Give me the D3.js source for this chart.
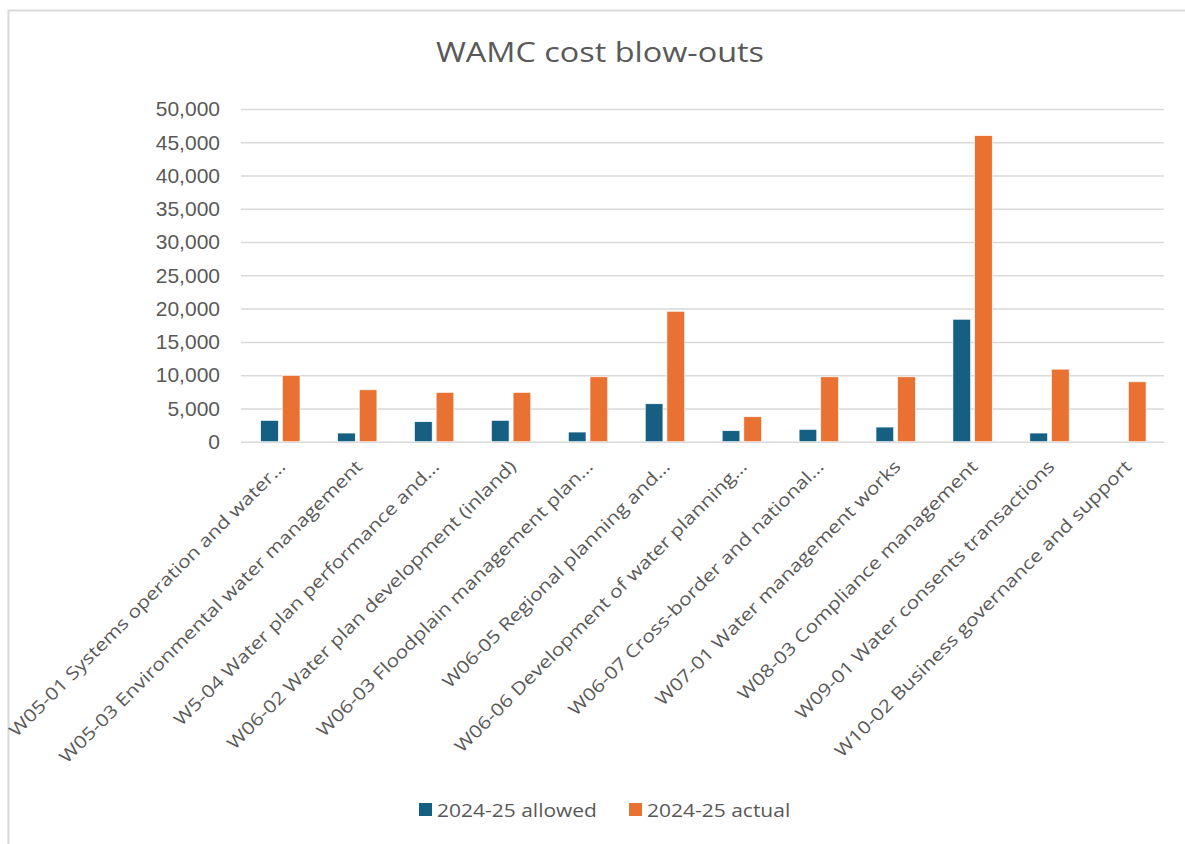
<!DOCTYPE html>
<html>
<head>
<meta charset="utf-8">
<script src="https://cdn.jsdelivr.net/npm/d3@7"></script>
<style>
  html, body { margin: 0; padding: 0; background: #fff; }
  svg { display: block; }
</style>
</head>
<body>
<svg id="chart" width="1185" height="844"></svg>
<script>
const categories = [
  "W05-01 Systems operation and water…",
  "W05-03 Environmental water management",
  "W5-04 Water plan performance and…",
  "W06-02 Water plan development (inland)",
  "W06-03 Floodplain management plan…",
  "W06-05 Regional planning and…",
  "W06-06 Development of water planning…",
  "W06-07 Cross-border and national…",
  "W07-01 Water management works",
  "W08-03 Compliance management",
  "W09-01 Water consents transactions",
  "W10-02 Business governance and support"
];
const allowed = [3200, 1300, 3000, 3200, 1450, 5700, 1650, 1850, 2200, 18400, 1300, 0];
const actual  = [9950, 7800, 7400, 7400, 9750, 19600, 3750, 9750, 9750, 46000, 10900, 9000];
const seriesNames = ["2024-25 allowed", "2024-25 actual"];
const seriesColors = ["#156082", "#E97132"];
const yTicks = [0, 5000, 10000, 15000, 20000, 25000, 30000, 35000, 40000, 45000, 50000];
const title = "WAMC cost blow-outs";

const TEXT = "#595959";
const FONT = "'Open Sans', 'Liberation Sans', sans-serif";
const SX = 1.2; // horizontal stretch to mimic the wide original face

const svg = d3.select("#chart");

// chart border
svg.append("rect")
  .attr("x", 8.5).attr("y", 10.5)
  .attr("width", 1200).attr("height", 860)
  .attr("fill", "#fff")
  .attr("stroke", "#D9D9D9").attr("stroke-width", 2);

const plot = { left: 241, right: 1164, top: 109, bottom: 441.7 };

const x0 = d3.scaleBand().domain(categories).range([plot.left, plot.right]).padding(0);
const bw = x0.bandwidth();
const x1 = d3.scaleBand().domain(seriesNames)
  .range([bw * 0.256, bw * 0.767]).paddingInner(0.185).paddingOuter(0);
const y = d3.scaleLinear().domain([0, 50000]).range([plot.bottom, plot.top]);

// gridlines via axis
const grid = svg.append("g")
  .attr("transform", `translate(${plot.left},0)`)
  .call(d3.axisLeft(y).tickValues(yTicks).tickSize(-(plot.right - plot.left)).tickFormat(""));
grid.select(".domain").remove();
grid.selectAll(".tick line").attr("stroke", "#D9D9D9").attr("stroke-width", 1.5);

// y tick labels
const yAxis = svg.append("g")
  .attr("transform", `translate(${plot.left - 21},0)`)
  .call(d3.axisLeft(y).tickValues(yTicks).tickSize(0).tickPadding(0).tickFormat(d3.format(",")));
yAxis.select(".domain").remove();
yAxis.selectAll("text")
  .attr("fill", TEXT)
  .style("font-family", "'Liberation Sans', Arial, sans-serif")
  .style("font-size", "21px");

// bars
const data = categories.map((c, i) => ({ cat: c, vals: [allowed[i], actual[i]] }));
const groups = svg.append("g").selectAll("g").data(data).join("g")
  .attr("transform", d => `translate(${x0(d.cat)},0)`);
groups.selectAll("rect")
  .data(d => d.vals.map((v, j) => ({ key: seriesNames[j], v, j })).filter(e => e.v > 0))
  .join("rect")
  .attr("x", e => x1(e.key))
  .attr("width", x1.bandwidth())
  .attr("y", e => y(e.v))
  .attr("height", e => y(0) - y(e.v))
  .attr("fill", e => seriesColors[e.j])
  .attr("stroke", "#fff").attr("stroke-width", 0.6);

// x axis (category labels)
const xAxis = svg.append("g")
  .attr("transform", `translate(0,${plot.bottom})`)
  .call(d3.axisBottom(x0).tickSize(0).tickPadding(0));
xAxis.select(".domain").remove();
xAxis.selectAll(".tick text")
  .attr("text-anchor", "end")
  .attr("dy", null).attr("y", null)
  .attr("transform", `translate(7,26) rotate(-45) scale(${SX},1)`)
  .attr("fill", TEXT)
  .style("font-family", FONT)
  .style("font-size", "17.5px");

// title
svg.append("text")
  .attr("text-anchor", "middle")
  .attr("transform", `translate(600,62) scale(${SX},1)`)
  .attr("fill", TEXT)
  .style("font-family", FONT)
  .style("font-size", "27px")
  .text(title);

// legend
const legendItems = [
  { name: seriesNames[0], color: seriesColors[0], x: 419 },
  { name: seriesNames[1], color: seriesColors[1], x: 629 }
];
const leg = svg.append("g").selectAll("g").data(legendItems).join("g")
  .attr("transform", d => `translate(${d.x},803)`);
leg.append("rect").attr("width", 13).attr("height", 13).attr("fill", d => d.color);
leg.append("text")
  .attr("transform", `translate(18,13.5) scale(${SX},1)`)
  .attr("fill", TEXT)
  .style("font-family", FONT)
  .style("font-size", "17.5px")
  .text(d => d.name);
</script>
</body>
</html>
